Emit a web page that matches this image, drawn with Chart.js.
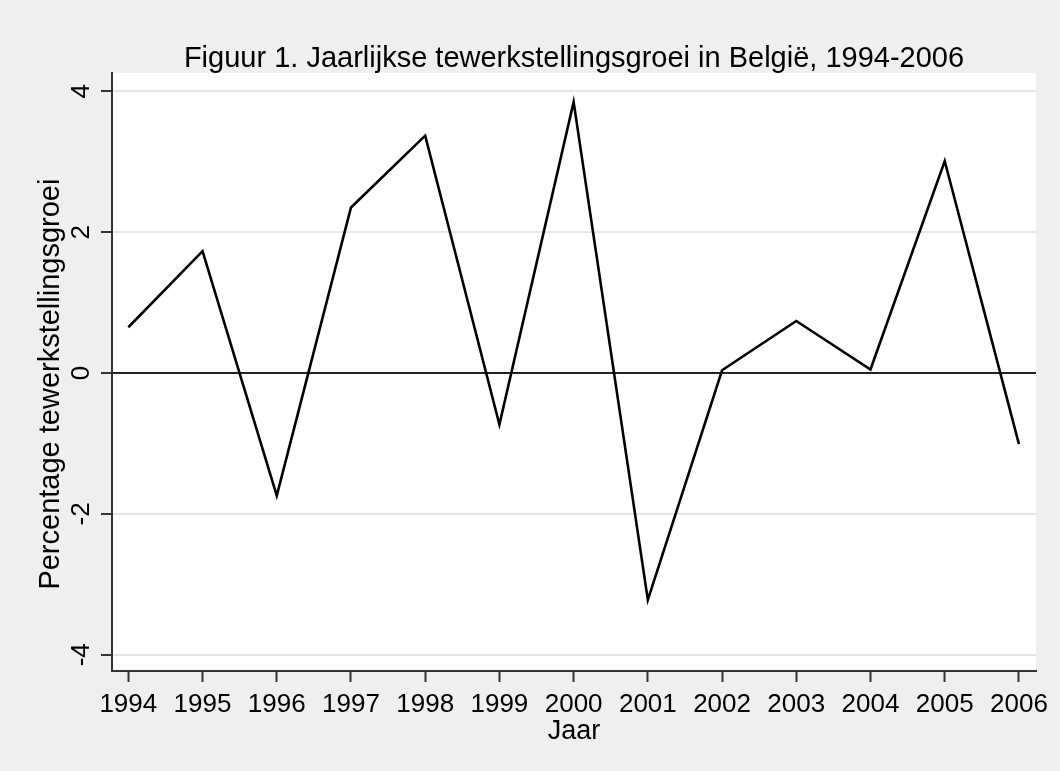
<!DOCTYPE html>
<html>
<head>
<meta charset="utf-8">
<script src="https://cdn.jsdelivr.net/npm/chart.js@4.4.0/dist/chart.umd.min.js"></script>
<style>
    html, body { margin: 0; padding: 0; background: #efefef; }
    #wrap { width: 1060px; height: 771px; }
</style>
</head>
<body>
<div id="wrap"><canvas id="chart" width="1060" height="771"></canvas></div>
<script>
// jaren en groeicijfers
const years = [1994, 1995, 1996, 1997, 1998, 1999, 2000, 2001, 2002, 2003, 2004, 2005, 2006];
const growth = [0.65, 1.73, -1.74, 2.35, 3.37, -0.73, 3.85, -3.22, 0.04, 0.74, 0.05, 3.01, -1.01];
const yTicks = [-4, -2, 0, 2, 4];

const titleText = 'Figuur 1. Jaarlijkse tewerkstellingsgroei in België, 1994-2006';
// extra spaties schuiven de gedraaide titel iets naar beneden, zoals in het origineel
const yTitle = 'Percentage tewerkstellingsgroei\u00a0\u00a0\u00a0';
const xTitle = 'Jaar';

const FONT = '"Liberation Sans", Arial, sans-serif';

// witte achtergrond voor het plotgebied
const plotBackground = {
    id: 'plotBackground',
    beforeDraw(chart) {
        const { ctx, chartArea } = chart;
        ctx.save();
        ctx.fillStyle = '#efefef';
        ctx.fillRect(0, 0, chart.width, chart.height);
        ctx.fillStyle = '#ffffff';
        ctx.fillRect(chartArea.left, chartArea.top, chartArea.right - chartArea.left, chartArea.bottom - chartArea.top);
        ctx.restore();
    }
};

const ctx = document.getElementById('chart').getContext('2d');
new Chart(ctx, {
    type: 'line',
    data: {
        datasets: [{
            data: years.map((y, i) => ({ x: y, y: growth[i] })),
            borderColor: '#000000',
            borderWidth: 2.6,
            pointRadius: 0,
            tension: 0,
            fill: false
        }]
    },
    options: {
        responsive: false,
        animation: false,
        layout: {
            padding: { left: 0, right: 24, top: 0, bottom: 0 }
        },
        plugins: {
            legend: { display: false },
            tooltip: { enabled: false },
            title: {
                display: true,
                fullSize: false,
                text: titleText,
                color: '#000000',
                font: { family: FONT, size: 29, weight: 'normal', lineHeight: 1 },
                padding: { top: 44, bottom: 0 }
            }
        },
        scales: {
            x: {
                type: 'linear',
                min: 1993.78,
                max: 2006.23,
                afterBuildTicks(scale) {
                    scale.ticks = years.map(v => ({ value: v }));
                },
                afterFit(scale) {
                    scale.height = 100;
                },
                ticks: {
                    color: '#000000',
                    font: { family: FONT, size: 26 },
                    padding: 7,
                    maxRotation: 0,
                    autoSkip: false,
                    callback: v => String(v)
                },
                grid: {
                    drawOnChartArea: false,
                    drawTicks: true,
                    tickLength: 11,
                    tickColor: '#333333',
                    tickWidth: 2
                },
                border: { color: '#333333', width: 2 },
                title: {
                    display: true,
                    text: xTitle,
                    color: '#000000',
                    font: { family: FONT, size: 27 },
                    padding: { top: 0, bottom: 23 }
                }
            },
            y: {
                type: 'linear',
                min: -4.23,
                max: 4.26,
                afterBuildTicks(scale) {
                    scale.ticks = yTicks.map(v => ({ value: v }));
                },
                afterFit(scale) {
                    scale.width = 112;
                },
                ticks: {
                    color: '#000000',
                    font: { family: FONT, size: 26 },
                    padding: 8,
                    crossAlign: 'center',
                    minRotation: 90,
                    maxRotation: 90,
                    callback: v => String(v)
                },
                grid: {
                    color: ctx => ctx.tick && ctx.tick.value === 0 ? '#222222' : '#e6e6e6',
                    lineWidth: 2,
                    drawTicks: true,
                    tickLength: 11,
                    tickColor: '#333333',
                    tickWidth: 2
                },
                border: { color: '#333333', width: 2 },
                title: {
                    display: true,
                    text: yTitle,
                    color: '#000000',
                    font: { family: FONT, size: 29 },
                    padding: { top: 34, bottom: 0 }
                }
            }
        }
    },
    plugins: [plotBackground]
});
</script>
</body>
</html>
